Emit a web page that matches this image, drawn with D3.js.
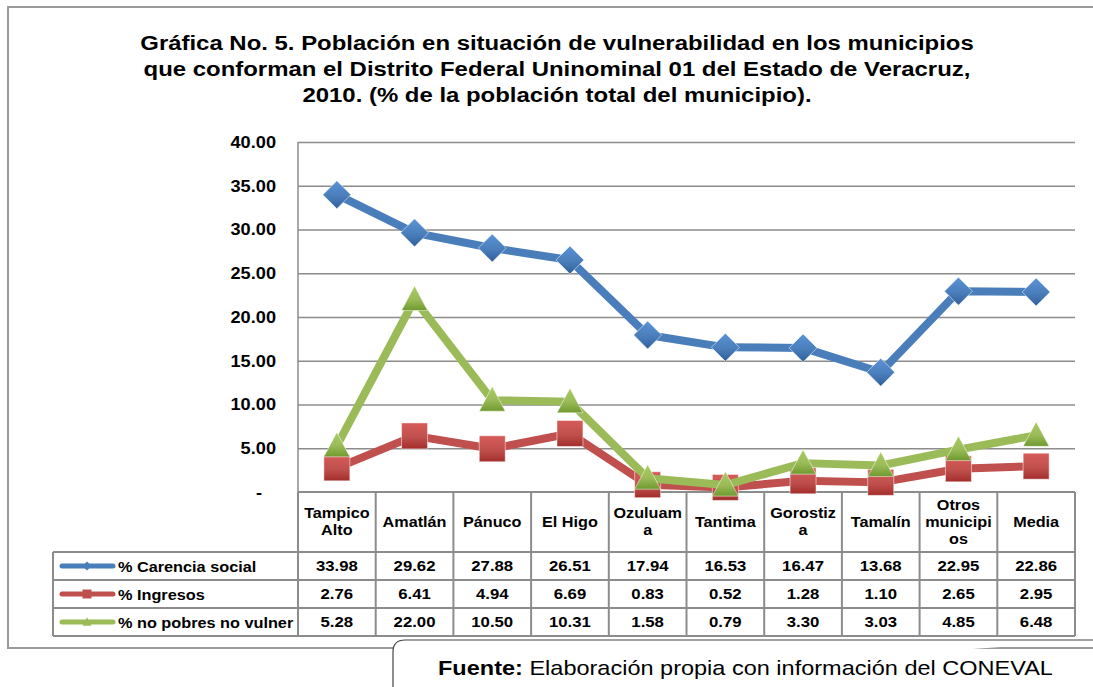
<!DOCTYPE html>
<html>
<head>
<meta charset="utf-8">
<script src="https://cdn.jsdelivr.net/npm/d3@7"></script>
<style>
  body { margin: 0; background: #fff; }
  svg text { font-family: Arial, "Liberation Sans", sans-serif; }
</style>
</head>
<body>
<svg id="chart" width="1093" height="687"></svg>
<script>
// data
const categories = ["Tampico Alto", "Amatlán", "Pánuco", "El Higo", "Ozuluama", "Tantima", "Gorostiza", "Tamalín", "Otros municipios", "Media"];
const headerLines = [["Tampico", "Alto"], ["Amatlán"], ["Pánuco"], ["El Higo"], ["Ozuluam", "a"], ["Tantima"], ["Gorostiz", "a"], ["Tamalín"], ["Otros", "municipi", "os"], ["Media"]];
const carencia = [33.98, 29.62, 27.88, 26.51, 17.94, 16.53, 16.47, 13.68, 22.95, 22.86];
const ingresos = [2.76, 6.41, 4.94, 6.69, 0.83, 0.52, 1.28, 1.10, 2.65, 2.95];
const noPobres = [5.28, 22.00, 10.50, 10.31, 1.58, 0.79, 3.30, 3.03, 4.85, 6.48];
const yTicks = [0, 5, 10, 15, 20, 25, 30, 35, 40];
const titleLines = [
  "Gráfica No. 5. Población en situación de vulnerabilidad en los municipios",
  "que conforman el Distrito Federal Uninominal 01 del Estado de Veracruz,",
  "2010. (% de la población total del municipio)."
];

const series = [
  { name: "% Carencia social", values: carencia, color: "#4a7ebb", dark: "#2f5f9a", light: "#5b93d6", shape: "diamond" },
  { name: "% Ingresos", values: ingresos, color: "#c0504d", dark: "#a32e2b", light: "#d65b58", shape: "square" },
  { name: "% no pobres no vulner", values: noPobres, color: "#9bbb59", dark: "#6f9a2e", light: "#a9cc63", shape: "triangle" }
];

const svg = d3.select("#chart");
const plotLeft = 298, plotRight = 1075, plotTop = 142, plotBottom = 492;
const legendLeft = 53;
const rowH = [60, 28, 28, 28];

const x = d3.scaleBand().domain(categories).range([plotLeft, plotRight]);
const y = d3.scaleLinear().domain([0, 40]).range([plotBottom, plotTop]);

// the source picture is a little wider than the font, stretch text around its anchor
const stretch = (cx, sx) => `translate(${cx},0) scale(${sx},1) translate(${-cx},0)`;

// gradients for markers
const defs = svg.append("defs");
series.forEach((s, i) => {
  const gr = defs.append("linearGradient").attr("id", "g" + i)
    .attr("x1", 0).attr("y1", 0).attr("x2", 0).attr("y2", 1);
  gr.append("stop").attr("offset", "0%").attr("stop-color", s.light);
  gr.append("stop").attr("offset", "55%").attr("stop-color", s.color);
  gr.append("stop").attr("offset", "100%").attr("stop-color", s.dark);
});

// outer frame
svg.append("rect").attr("x", 8).attr("y", 7).attr("width", 1100).attr("height", 641)
  .attr("fill", "none").attr("stroke", "#9a9a9a").attr("stroke-width", 2);

// title
svg.append("g").selectAll("text").data(titleLines).join("text")
  .attr("x", 557).attr("y", (d, i) => 50 + i * 26)
  .attr("transform", stretch(557, 1.14))
  .attr("text-anchor", "middle").attr("font-size", 21).attr("font-weight", "bold")
  .attr("fill", "#000").text(d => d);

// grid
svg.append("g")
  .attr("transform", `translate(${plotLeft},0)`)
  .call(d3.axisLeft(y).tickValues(yTicks.filter(d => d > 0)).tickSize(-(plotRight - plotLeft)).tickFormat(""))
  .call(g => g.select(".domain").remove())
  .call(g => g.selectAll("line").attr("stroke", "#8c8c8c").attr("stroke-width", 1.5));

// y axis line
svg.append("line").attr("x1", plotLeft).attr("x2", plotLeft).attr("y1", plotTop).attr("y2", plotBottom)
  .attr("stroke", "#8c8c8c").attr("stroke-width", 1.5);

// y labels
svg.append("g")
  .attr("transform", `translate(${plotLeft},0)`)
  .call(d3.axisLeft(y).tickValues(yTicks).tickSize(0).tickPadding(22)
    .tickFormat(d => d === 0 ? "-" : d.toFixed(2)))
  .call(g => g.select(".domain").remove())
  .call(g => g.selectAll("text").attr("font-size", 17).attr("font-weight", "bold")
    .attr("fill", "#000").attr("font-family", "Arial, 'Liberation Sans', sans-serif")
    .attr("transform", stretch(-22, 1.07)))
  .call(g => g.selectAll(".tick").filter(d => d === 0).select("text").attr("dx", -13));

// table
const table = svg.append("g");
const rowY = [plotBottom];
rowH.forEach(h => rowY.push(rowY[rowY.length - 1] + h));
const gridStroke = "#8c8c8c";

// horizontal lines
table.selectAll("line.h").data(rowY).join("line")
  .attr("x1", (d, i) => i === 0 ? plotLeft : legendLeft)
  .attr("x2", plotRight).attr("y1", d => d).attr("y2", d => d)
  .attr("stroke", gridStroke).attr("stroke-width", 2);
// vertical lines
const colX = categories.map(c => x(c)).concat([plotRight]);
table.selectAll("line.v").data(colX).join("line")
  .attr("x1", d => d).attr("x2", d => d)
  .attr("y1", plotBottom).attr("y2", rowY[4])
  .attr("stroke", gridStroke).attr("stroke-width", 2);
table.append("line").attr("x1", legendLeft).attr("x2", legendLeft)
  .attr("y1", rowY[1]).attr("y2", rowY[4]).attr("stroke", gridStroke).attr("stroke-width", 2);

// header text
categories.forEach((c, i) => {
  const lines = headerLines[i];
  const cx = x(c) + x.bandwidth() / 2;
  const cy = plotBottom + rowH[0] / 2;
  const lh = 17;
  const t = table.append("text").attr("text-anchor", "middle")
    .attr("transform", stretch(cx, 1.08))
    .attr("font-size", 15).attr("font-weight", "bold").attr("fill", "#000");
  lines.forEach((l, k) => {
    t.append("tspan").attr("x", cx)
      .attr("y", cy + (k - (lines.length - 1) / 2) * lh + 5).text(l);
  });
});

// marker path generator
function markerPath(shape, r) {
  if (shape === "diamond") return `M0,${-r}L${r},0L0,${r}L${-r},0Z`;
  if (shape === "square") return `M${-r},${-r}H${r}V${r}H${-r}Z`;
  return `M0,${-r * 1.05}L${r},${r * 0.85}H${-r}Z`;
}

// value rows + legend keys
series.forEach((s, si) => {
  const y0 = rowY[si + 1], y1 = rowY[si + 2];
  const cy = (y0 + y1) / 2;
  table.selectAll(null).data(s.values).join("text")
    .attr("x", (d, i) => x(categories[i]) + x.bandwidth() / 2)
    .attr("y", cy + 5.5)
    .attr("transform", (d, i) => stretch(x(categories[i]) + x.bandwidth() / 2, 1.08))
    .attr("text-anchor", "middle").attr("font-size", 15.5).attr("font-weight", "bold")
    .attr("fill", "#000").text(d => d.toFixed(2));
  const key = table.append("g").attr("transform", `translate(0,${cy})`);
  key.append("line").attr("x1", 62).attr("x2", 113).attr("stroke", s.color)
    .attr("stroke-width", 5).attr("stroke-linecap", "round");
  key.append("path").attr("transform", "translate(87,0)")
    .attr("d", markerPath(s.shape, 4.5)).attr("fill", s.color);
  key.append("text").attr("x", 118).attr("y", 5.5).attr("font-size", 15.5)
    .attr("transform", stretch(118, 1.05))
    .attr("font-weight", "bold").attr("fill", "#000").text(s.name);
});

// lines and markers
const line = d3.line()
  .x((d, i) => x(categories[i]) + x.bandwidth() / 2)
  .y(d => y(d));

series.forEach((s, si) => {
  const g = svg.append("g");
  g.append("path").datum(s.values).attr("d", line)
    .attr("fill", "none").attr("stroke", s.color).attr("stroke-width", 8)
    .attr("stroke-linejoin", "round");
  g.selectAll("path.m").data(s.values).join("path")
    .attr("class", "m")
    .attr("transform", (d, i) => `translate(${x(categories[i]) + x.bandwidth() / 2},${y(d)})`)
    .attr("d", markerPath(s.shape, s.shape === "diamond" ? 14 : 13))
    .attr("fill", `url(#g${si})`)
    .attr("stroke", "#fff").attr("stroke-opacity", 0.5).attr("stroke-width", 1);
});

// source box
svg.append("path")
  .attr("d", "M393,690V652Q393,640 405,640H1100")
  .attr("fill", "#fff").attr("stroke", "#444").attr("stroke-width", 1.2);
const src = svg.append("text").attr("x", 438).attr("y", 675).attr("font-size", 21).attr("fill", "#000")
  .attr("transform", stretch(438, 1.12));
src.append("tspan").attr("font-weight", "bold").text("Fuente:");
src.append("tspan").text(" Elaboración propia con información del CONEVAL");
</script>
</body>
</html>
